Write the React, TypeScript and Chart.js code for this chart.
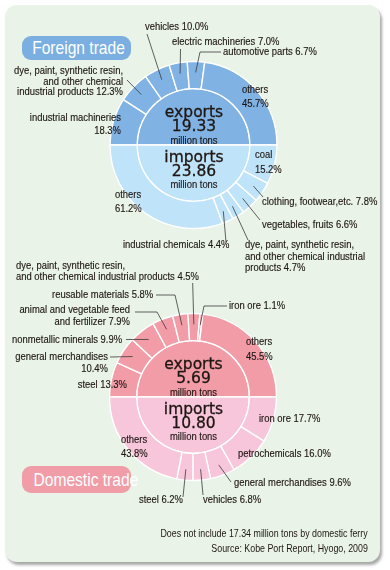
import { useEffect, useRef } from "react";
import { Chart, registerables } from "chart.js";

Chart.register(...registerables);

// ---------------- data ----------------
const foreignExportCategories = [
  "industrial machineries",
  "dye, paint, synthetic resin, and other chemical industrial products",
  "vehicles",
  "electric machineries",
  "automotive parts",
  "others",
];
const foreignExportValues = [18.3, 12.3, 10.0, 7.0, 6.7, 45.7];

const foreignImportCategories = [
  "coal",
  "clothing, footwear,etc.",
  "vegetables, fruits",
  "dye, paint, synthetic resin, and other chemical industrial products",
  "industrial chemicals",
  "others",
];
const foreignImportValues = [15.2, 7.8, 6.6, 4.7, 4.4, 61.2];

const foreignTotals = [19.33, 23.86]; // exports, imports (million tons)

const domesticExportCategories = [
  "steel",
  "general merchandises",
  "nonmetallic minerals",
  "animal and vegetable feed and fertilizer",
  "reusable materials",
  "dye, paint, synthetic resin, and other chemical industrial products",
  "iron ore",
  "others",
];
const domesticExportValues = [13.3, 10.4, 9.9, 7.9, 5.8, 4.5, 1.1, 45.5];

const domesticImportCategories = [
  "iron ore",
  "petrochemicals",
  "general merchandises",
  "vehicles",
  "steel",
  "others",
];
const domesticImportValues = [17.7, 16.0, 9.6, 6.8, 6.2, 43.8];

const domesticTotals = [5.69, 10.8];

// ---------------- layout / style ----------------
type LabelSpec = {
  lines: string[];
  x: number;
  y: number;
  align?: CanvasTextAlign;
  lh?: number;
  leader?: number[][];
};

const foreignLabels: LabelSpec[] = [
  { lines: ["industrial machineries", "{v}%"], x: 121, y: 120.5, align: "right", lh: 13.5 },
  { lines: ["dye, paint, synthetic resin,", "and other chemical", "industrial products {v}%"], x: 123, y: 74, align: "right", lh: 10.6, leader: [[127, 80]] },
  { lines: ["vehicles {v}%"], x: 145, y: 30, leader: [[147, 34]] },
  { lines: ["electric machineries {v}%"], x: 172, y: 45, leader: [[180.5, 49]] },
  { lines: ["automotive parts {v}%"], x: 223, y: 55, leader: [[221, 52], [200, 52]] },
  { lines: ["others", "{v}%"], x: 242, y: 93, lh: 14 },
  { lines: ["coal", "{v}%"], x: 255, y: 158, lh: 14.7 },
  { lines: ["clothing, footwear,etc. {v}%"], x: 262, y: 205, leader: [[263, 197]] },
  { lines: ["vegetables, fruits {v}%"], x: 262, y: 228, leader: [[260, 220]] },
  { lines: ["dye, paint, synthetic resin,", "and other chemical industrial", "products {v}%"], x: 245, y: 248.3, lh: 11.2, leader: [[248, 240]] },
  { lines: ["industrial chemicals {v}%"], x: 123, y: 248.3, leader: [[226, 242]] },
  { lines: ["others", "{v}%"], x: 115, y: 198, lh: 13.7 },
];

const domesticLabels: LabelSpec[] = [
  { lines: ["steel {v}%"], x: 127, y: 388, align: "right" },
  { lines: ["general merchandises", "{v}%"], x: 108, y: 360, align: "right", lh: 11.7, leader: [[110, 357]] },
  { lines: ["nonmetallic minerals {v}%"], x: 12, y: 343, leader: [[126, 339.5]] },
  { lines: ["animal and vegetable feed", "and fertilizer {v}%"], x: 130, y: 313, align: "right", lh: 12, leader: [[135, 312], [157, 312]] },
  { lines: ["reusable materials {v}%"], x: 52, y: 298, leader: [[156, 295], [175, 295]] },
  { lines: ["dye, paint, synthetic resin,", "and other chemical industrial products {v}%"], x: 16, y: 269, lh: 11, leader: [[192.7, 283]] },
  { lines: ["iron ore {v}%"], x: 229, y: 309, leader: [[227, 306], [204, 306]] },
  { lines: ["others", "{v}%"], x: 246, y: 345, lh: 15 },
  { lines: ["iron ore {v}%"], x: 259, y: 421.7 },
  { lines: ["petrochemicals {v}%"], x: 238, y: 456.7 },
  { lines: ["general merchandises {v}%"], x: 234, y: 485.7, leader: [[231, 482]] },
  { lines: ["vehicles {v}%"], x: 203, y: 502.7, leader: [[203, 495]] },
  { lines: ["steel {v}%"], x: 183, y: 503, align: "right", leader: [[183, 497]] },
  { lines: ["others", "{v}%"], x: 121, y: 443, lh: 13.7 },
];

const LABEL_FONT = '11.5px "Liberation Sans", Arial, sans-serif';
const NARROW = 0.82; // horizontal condensing of the label face
const TEXT_COLOR = "#1e1612";

const sum = (a: number[]) => a.reduce((s, v) => s + v, 0);

function condensedText(
  ctx: CanvasRenderingContext2D,
  text: string,
  x: number,
  y: number,
  align: CanvasTextAlign,
  sx: number,
  embolden = 0
) {
  ctx.save();
  ctx.translate(x, y);
  ctx.scale(sx, 1);
  ctx.textAlign = align;
  ctx.fillText(text, 0, 0);
  if (embolden > 0) {
    ctx.lineWidth = embolden;
    ctx.strokeStyle = ctx.fillStyle as string;
    ctx.strokeText(text, 0, 0);
  }
  ctx.restore();
}

type DonutCfg = {
  exportCats: string[];
  exportVals: number[];
  importCats: string[];
  importVals: number[];
  totals: number[];
  exportColor: string;
  importColor: string;
  labels: LabelSpec[];
  padding: { left: number; right: number; top: number; bottom: number };
};

function makeChart(canvas: HTMLCanvasElement, cfg: DonutCfg) {
  const eSum = sum(cfg.exportVals);
  const iSum = sum(cfg.importVals);
  // each half of the ring spans 180 degrees
  const ring = [
    ...cfg.exportVals.map((v) => (v / eSum) * 50),
    ...cfg.importVals.map((v) => (v / iSum) * 50),
  ];
  const rawVals = [...cfg.exportVals, ...cfg.importVals];
  const ringColors = [
    ...cfg.exportVals.map(() => cfg.exportColor),
    ...cfg.importVals.map(() => cfg.importColor),
  ];

  const labelPlugin = {
    id: "labels",
    afterDraw(chart: any) {
      const ctx = chart.ctx as CanvasRenderingContext2D;
      const meta = chart.getDatasetMeta(0);
      ctx.save();
      ctx.font = LABEL_FONT;
      ctx.fillStyle = TEXT_COLOR;
      ctx.strokeStyle = "#3a3a3a";
      ctx.lineWidth = 0.8;
      ctx.textBaseline = "alphabetic";
      cfg.labels.forEach((spec, i) => {
        const arc = meta.data[i];
        if (!arc) return;
        const p = arc.getProps(["x", "y", "startAngle", "endAngle", "innerRadius", "outerRadius"], true);
        const mid = (p.startAngle + p.endAngle) / 2;
        const r = p.innerRadius + 0.6 * (p.outerRadius - p.innerRadius);
        const ax = p.x + Math.cos(mid) * r;
        const ay = p.y + Math.sin(mid) * r;
        if (spec.leader) {
          ctx.beginPath();
          ctx.moveTo(spec.leader[0][0], spec.leader[0][1]);
          for (let k = 1; k < spec.leader.length; k++) ctx.lineTo(spec.leader[k][0], spec.leader[k][1]);
          ctx.lineTo(ax, ay);
          ctx.stroke();
        }
        const v = rawVals[i].toFixed(1);
        spec.lines.forEach((ln, j) => {
          condensedText(ctx, ln.replace("{v}", v), spec.x, spec.y + j * (spec.lh || 12), spec.align || "left", NARROW, 0.15);
        });
      });
      // center text
      const c = meta.data[0].getProps(["x", "y"], true);
      const cx = c.x + 0.5;
      const cy = c.y;
      ctx.font = '15.5px "DejaVu Sans", sans-serif';
      condensedText(ctx, "exports", cx, cy - 28, "center", 1, 0.3);
      condensedText(ctx, cfg.totals[0].toFixed(2), cx, cy - 14, "center", 1, 0.3);
      condensedText(ctx, "imports", cx, cy + 17, "center", 1, 0.3);
      condensedText(ctx, cfg.totals[1].toFixed(2), cx, cy + 31, "center", 1, 0.3);
      ctx.font = LABEL_FONT;
      condensedText(ctx, "million tons", cx, cy - 1.5, "center", NARROW, 0.15);
      condensedText(ctx, "million tons", cx, cy + 43, "center", NARROW, 0.15);
      ctx.restore();
    },
  };

  return new Chart(canvas, {
    type: "doughnut",
    data: {
      labels: [...cfg.exportCats, ...cfg.importCats],
      datasets: [
        {
          data: ring,
          backgroundColor: ringColors,
          borderColor: "#ffffff",
          borderWidth: 1.4,
          weight: 27,
        },
        {
          data: [50, 50],
          backgroundColor: [cfg.exportColor, cfg.importColor],
          borderColor: "#ffffff",
          borderWidth: 1.4,
          weight: 56,
        },
      ],
    },
    options: {
      animation: false,
      responsive: false,
      events: [],
      rotation: -90,
      cutout: 0,
      radius: 83.5,
      layout: { padding: cfg.padding },
      plugins: { legend: { display: false }, tooltip: { enabled: false } },
    } as any,
    plugins: [labelPlugin],
  });
}

const FONT_STACK = '"Liberation Sans", Arial, sans-serif';

function Pill(props: { text: string; top: number; height: number; color: string }) {
  return (
    <div
      style={{
        position: "absolute",
        left: 22,
        top: props.top,
        width: 109,
        height: props.height,
        borderRadius: 9,
        background: props.color,
        color: "#ffffff",
        font: `19px ${FONT_STACK}`,
        lineHeight: `${props.height}px`,
        textAlign: "center",
        whiteSpace: "nowrap",
      }}
    >
      <span style={{ display: "inline-block", transform: `scaleX(${NARROW})`, transformOrigin: "center" }}>{props.text}</span>
    </div>
  );
}

function Note(props: { text: string; top: number }) {
  return (
    <div
      style={{
        position: "absolute",
        right: 22,
        top: props.top,
        font: `10.8px ${FONT_STACK}`,
        lineHeight: "12px",
        color: TEXT_COLOR,
        whiteSpace: "nowrap",
        transform: `scaleX(${NARROW})`,
        transformOrigin: "right center",
      }}
    >
      {props.text}
    </div>
  );
}

export default function App() {
  const topRef = useRef<HTMLCanvasElement>(null);
  const botRef = useRef<HTMLCanvasElement>(null);

  useEffect(() => {
    const a = makeChart(topRef.current!, {
      exportCats: foreignExportCategories,
      exportVals: foreignExportValues,
      importCats: foreignImportCategories,
      importVals: foreignImportValues,
      totals: foreignTotals,
      exportColor: "#80b2e3",
      importColor: "#bfe3f8",
      labels: foreignLabels,
      padding: { left: 0, right: 3, top: 0, bottom: 280 },
    });
    const b = makeChart(botRef.current!, {
      exportCats: domesticExportCategories,
      exportVals: domesticExportValues,
      importCats: domesticImportCategories,
      importVals: domesticImportValues,
      totals: domesticTotals,
      exportColor: "#f19ca7",
      importColor: "#f7c6da",
      labels: domesticLabels,
      padding: { left: 0, right: 4, top: 224, bottom: 0 },
    });
    return () => {
      a.destroy();
      b.destroy();
    };
  }, []);

  return (
    <div style={{ position: "absolute", left: 0, top: 0, width: 390, height: 570, background: "#ffffff", overflow: "hidden" }}>
      <div
        style={{
          position: "absolute",
          left: 5,
          top: 5,
          width: 375,
          height: 557,
          borderRadius: 12,
          background: "#e9f3e8",
          boxShadow: "2px 3px 3px rgba(0,0,0,0.35)",
        }}
      />
      <Pill text="Foreign trade" top={36} height={24} color="#7bafe1" />
      <Pill text="Domestic trade" top={466} height={27} color="#f09da8" />
      <canvas ref={topRef} width={390} height={570} style={{ position: "absolute", left: 0, top: 0, width: 390, height: 570 }} />
      <canvas ref={botRef} width={390} height={570} style={{ position: "absolute", left: 0, top: 0, width: 390, height: 570 }} />
      <Note text="Does not include 17.34 million tons by domestic ferry" top={527} />
      <Note text="Source: Kobe Port Report, Hyogo, 2009" top={541.5} />
    </div>
  );
}
